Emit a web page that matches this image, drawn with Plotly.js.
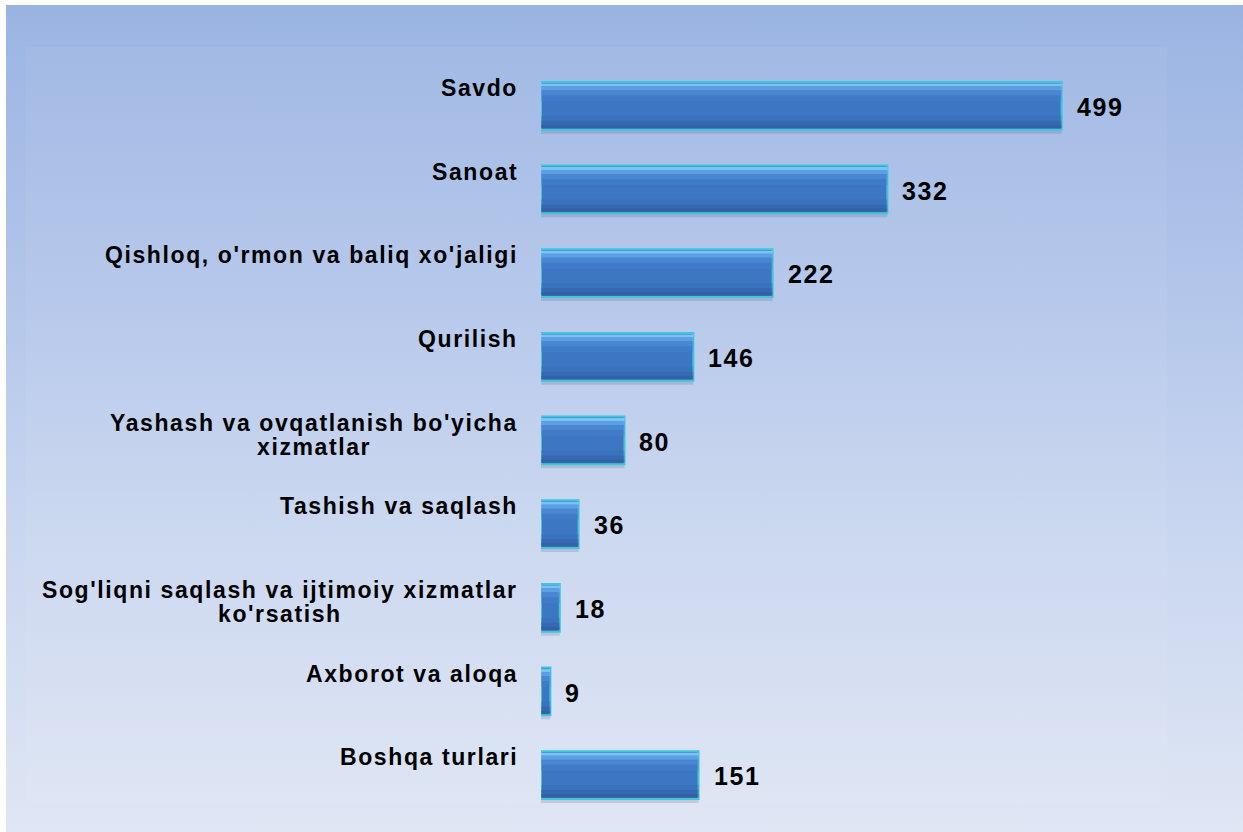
<!DOCTYPE html>
<html>
<head>
<meta charset="utf-8">
<script src="https://cdn.plot.ly/plotly-3.0.1.min.js"></script>
<style>
  html, body { margin: 0; padding: 0; background: #ffffff; }
  #wrap { position: relative; width: 1243px; height: 832px; overflow: hidden; }
  #panel { position: absolute; left: 6px; top: 5px; width: 1237px; height: 827px;
           background: linear-gradient(to bottom, #9ab4e2 0%, #b3c6ea 35%, #cad7f0 65%, #dfe6f4 100%); }
  #chart { position: absolute; left: 0; top: 0; width: 1243px; height: 832px; }
  text.annotation-text { letter-spacing: 1.6px; }
</style>
</head>
<body>
<div id="wrap">
  <div id="panel"></div>
  <div id="chart"></div>
</div>
<script>
const categories = [
  "Savdo",
  "Sanoat",
  "Qishloq, o'rmon va baliq xo'jaligi",
  "Qurilish",
  "Yashash va ovqatlanish bo'yicha<br>xizmatlar",
  "Tashish va saqlash",
  "Sog'liqni saqlash va ijtimoiy xizmatlar<br>ko'rsatish",
  "Axborot va aloqa",
  "Boshqa turlari"
];
const values = [499, 332, 222, 146, 80, 36, 18, 9, 151];
const valueLabels = values.map(v => String(v));

const FONT = "Arial, 'Liberation Sans', sans-serif";
const LABEL_SIZE = 23;
const VALUE_SIZE = 25;
const LETTER_SP = 1.6;
const LINE_GAP = 24;
const barOffset = -0.083;
const barWidth = 0.571;
const PX = barWidth / 48; // one pixel of bar height in category units

function bandTrace(fromPx, hPx, color) {
  return {
    type: 'bar', orientation: 'h', x: values, y: categories,
    offset: barOffset + fromPx * PX, width: hPx * PX,
    marker: { color: color, line: { width: 0 } },
    hoverinfo: 'skip', showlegend: false
  };
}

const shadow = {
  type: 'bar', orientation: 'h', x: values, y: categories,
  offset: barOffset + 4 * PX, width: barWidth,
  marker: { color: 'rgba(70,80,110,0.18)', line: { width: 0 } },
  hoverinfo: 'skip', showlegend: false
};
const main = {
  type: 'bar', orientation: 'h', x: values, y: categories,
  offset: barOffset, width: barWidth,
  marker: { color: '#3d77c3', line: { color: '#3fc6dc', width: 2 } },
  showlegend: false
};
const bands = [
  bandTrace(1.5, 3, 'rgba(125,200,245,0.95)'),
  bandTrace(4.5, 4, 'rgba(100,165,232,0.85)'),
  bandTrace(8.5, 5, 'rgba(80,142,218,0.7)'),
  bandTrace(13.5, 6, 'rgba(70,130,210,0.4)'),
  bandTrace(34, 5, 'rgba(55,105,180,0.35)'),
  bandTrace(39, 4, 'rgba(50,95,165,0.55)'),
  bandTrace(43, 3.5, 'rgba(48,88,150,0.7)')
];

// measure label lines so each multi-line label is centred as a block
const cv = document.createElement('canvas').getContext('2d');
cv.font = 'bold ' + LABEL_SIZE + 'px "Liberation Sans", Arial, sans-serif';
function textW(s) { return cv.measureText(s).width + s.length * LETTER_SP; }

const annotations = [];
categories.forEach((c, i) => {
  const lines = c.split('<br>');
  const maxW = Math.max.apply(null, lines.map(textW));
  lines.forEach((line, k) => {
    annotations.push({
      xref: 'x', yref: 'y', x: 0, y: c, text: '<b>' + line + '</b>',
      showarrow: false, xanchor: 'center', yanchor: 'middle', align: 'center',
      xshift: -23 - maxW / 2, yshift: 1 - k * LINE_GAP,
      font: { family: FONT, size: LABEL_SIZE, color: '#000000' }
    });
  });
  annotations.push({
    xref: 'x', yref: 'y', x: values[i], y: c, text: '<b>' + valueLabels[i] + '</b>',
    showarrow: false, xanchor: 'left', yanchor: 'middle',
    xshift: 13, yshift: -18,
    font: { family: FONT, size: VALUE_SIZE, color: '#000000' }
  });
});

const layout = {
  width: 1243, height: 832,
  margin: { l: 541, r: 76, t: 47, b: 29 },
  paper_bgcolor: 'rgba(0,0,0,0)',
  plot_bgcolor: 'rgba(0,0,0,0)',
  barmode: 'overlay',
  showlegend: false,
  xaxis: { range: [0, 600], visible: false, showgrid: false, zeroline: false, fixedrange: true },
  yaxis: { type: 'category', autorange: 'reversed', showticklabels: false, showgrid: false,
           zeroline: false, showline: false, ticks: '', fixedrange: true },
  shapes: [{
    type: 'rect', xref: 'paper', yref: 'paper', x0: -0.8227, x1: 1, y0: 0, y1: 1,
    fillcolor: 'rgba(255,255,255,0.05)', line: { width: 0 }, layer: 'below'
  }],
  annotations: annotations,
  font: { family: FONT }
};

Plotly.newPlot('chart', [shadow, main].concat(bands), layout, { displayModeBar: false, staticPlot: true });
</script>
</body>
</html>
